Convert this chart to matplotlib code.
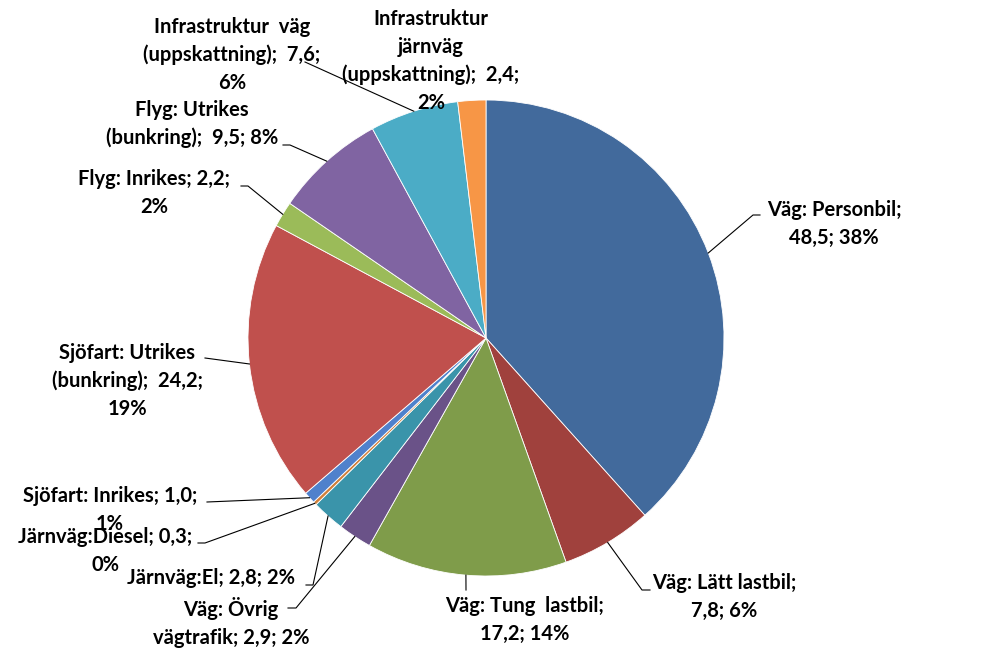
import matplotlib
matplotlib.use("Agg")
import matplotlib.pyplot as plt
import numpy as np

labels = ["Väg: Personbil", "Väg: Lätt lastbil", "Väg: Tung lastbil",
          "Väg: Övrig vägtrafik", "Järnväg:El", "Järnväg:Diesel",
          "Sjöfart: Inrikes", "Sjöfart: Utrikes (bunkring)", "Flyg: Inrikes",
          "Flyg: Utrikes (bunkring)", "Infrastruktur väg (uppskattning)",
          "Infrastruktur järnväg (uppskattning)"]
values = [48.5, 7.8, 17.2, 2.9, 2.8, 0.3, 1.0, 24.2, 2.2, 9.5, 7.6, 2.4]
pcts = ["38%", "6%", "14%", "2%", "2%", "0%", "1%", "19%", "2%", "8%", "6%", "2%"]
# label texts as they are wrapped in the chart
texts = ["Väg: Personbil;\n48,5; 38%",
         "Väg: Lätt lastbil;\n7,8; 6%",
         "Väg: Tung  lastbil;\n17,2; 14%",
         "Väg: Övrig\nvägtrafik; 2,9; 2%",
         "Järnväg:El; 2,8; 2%",
         "Järnväg:Diesel; 0,3;\n0%",
         "Sjöfart: Inrikes; 1,0;\n1%",
         "Sjöfart: Utrikes\n(bunkring);  24,2;\n19%",
         "Flyg: Inrikes; 2,2;\n2%",
         "Flyg: Utrikes\n(bunkring);  9,5; 8%",
         "Infrastruktur  väg\n(uppskattning);  7,6;\n6%",
         "Infrastruktur\njärnväg\n(uppskattning);  2,4;\n2%"]
colors = ["#426A9C", "#A0413D", "#7F9C4A", "#6A5288", "#3A94AA", "#D07F3A",
          "#4F81CC", "#C0504D", "#9BBB59", "#8064A2", "#4BACC6", "#F79646"]

H = 654
cx, cy, R = 486, 338, 238

# label placement (pixel coords, image y downward): text centre, leader end
lab_pos = [(834, 224), (724, 597), (525, 620), (231, 622), (211, 578),
           (105, 551), (110, 510), (127, 381), (154, 193), (192, 124),
           (232, 55), (431, 61)]
lead_end = [(753, 215), (642, 590), (466, 590), (296, 608), (313, 585),
            (205, 543), (207, 502), (205, 358), (248, 186), (290, 145),
            (305, 62), None]
ticks = [(760, 215), (650, 590), None, (288, 608), (306, 585),
         (198, 543), None, None, (241, 186), (283, 145), None, None]

fig = plt.figure(figsize=(10, 6.54), dpi=100)
ax = fig.add_axes([0, 0, 1, 1])

wedges, _ = ax.pie(values, colors=colors, startangle=90, counterclock=False,
                   center=(cx, H - cy), radius=R,
                   wedgeprops=dict(edgecolor="white", linewidth=0.6))
ax.set_xlim(0, 1000)
ax.set_ylim(0, H)
ax.set_aspect("equal")
ax.axis("off")

for i, w in enumerate(wedges):
    mid = np.deg2rad((w.theta1 + w.theta2) / 2)
    sx = cx + R * np.cos(mid)
    sy = H - cy + R * np.sin(mid)
    if lead_end[i] is not None:
        ex, ey = lead_end[i]
        xs = [sx, ex]
        ys = [sy, H - ey]
        if ticks[i] is not None:
            xs.append(ticks[i][0])
            ys.append(H - ticks[i][1])
        ax.plot(xs, ys, color="black", linewidth=0.8)
    tx, ty = lab_pos[i]
    ax.text(tx, H - ty, texts[i], ha="center", va="center", fontsize=14.5,
            family="Lato", fontweight="bold", linespacing=1.5)

fig.savefig("out.png", dpi=100)
